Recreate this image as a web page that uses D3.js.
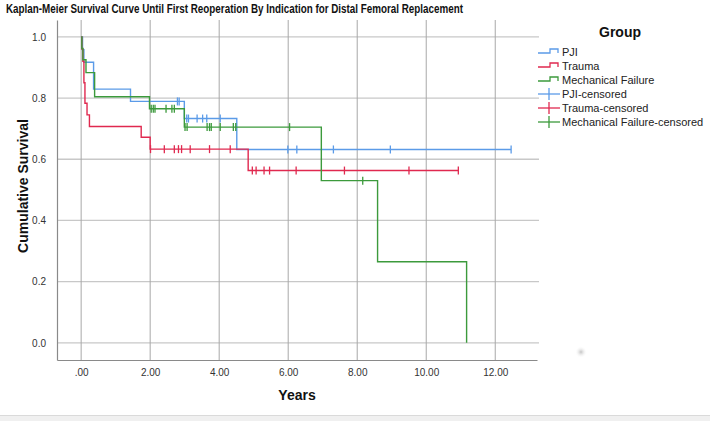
<!DOCTYPE html>
<html><head><meta charset="utf-8">
<script src="https://cdn.jsdelivr.net/npm/d3@7"></script>
<style>body{margin:0;background:#fff;overflow:hidden}svg{display:block}</style>
</head><body>
<script>
// ---- data ----
const groups = ["PJI", "Trauma", "Mechanical Failure"];
const colors = ["#5b9be8", "#e0294f", "#3c9a3c"];

const pjiTimes = [0, 0.04, 0.08, 0.36, 1.43, 2.99, 4.51];
const pjiSurv  = [1.0, 0.958, 0.917, 0.829, 0.789, 0.733, 0.632];
const pjiEnd = 12.46;
const pjiCensored = [2.79, 2.84, 3.06, 3.11, 3.36, 3.52, 3.64, 4.03, 5.99, 6.25, 7.31, 8.96, 12.46];

const traumaTimes = [0, 0.02, 0.05, 0.08, 0.11, 0.17, 0.24, 1.74, 2.0, 4.84];
const traumaSurv  = [1.0, 0.96, 0.92, 0.85, 0.783, 0.745, 0.707, 0.672, 0.633, 0.563];
const traumaEnd = 10.93;
const traumaCensored = [2.01, 2.41, 2.70, 2.82, 2.91, 3.16, 3.72, 4.32, 4.96, 5.07, 5.30, 5.46, 6.23, 7.63, 9.50, 10.93];

const mechTimes = [0, 0.02, 0.05, 0.14, 0.39, 1.98, 2.99, 6.96, 8.59, 11.17];
const mechSurv  = [1.0, 0.962, 0.925, 0.883, 0.804, 0.765, 0.705, 0.53, 0.265, 0.0];
const mechEnd = 11.17;
const mechCensored = [2.03, 2.09, 2.14, 2.46, 2.63, 2.70, 3.01, 3.07, 3.65, 3.72, 3.77, 4.03, 4.41, 4.48, 6.04, 8.16];

const xTicks = [0, 2, 4, 6, 8, 10, 12];
const yTicks = [0, 0.2, 0.4, 0.6, 0.8, 1.0];
const legendLabels = ["PJI", "Trauma", "Mechanical Failure", "PJI-censored", "Trauma-censored", "Mechanical Failure-censored"];

// ---- chart ----
const W = 710, H = 421;
const svg = d3.select("body").append("svg").attr("width", W).attr("height", H)
  .style("font-family", "Arial, 'Liberation Sans', sans-serif");

const x = d3.scaleLinear().domain([-0.7, 13.21]).range([57, 537]);
const y = d3.scaleLinear().domain([-0.056, 1.055]).range([360, 20]);

// title
svg.append("text").attr("x", 6).attr("y", 12.5)
  .attr("font-size", 12.5).attr("font-weight", "bold").attr("fill", "#111")
  .attr("textLength", 457).attr("lengthAdjust", "spacingAndGlyphs")
  .text("Kaplan-Meier Survival Curve Until First Reoperation By Indication for Distal Femoral Replacement");

// gridlines
const grid = svg.append("g");
grid.selectAll(".hg").data(yTicks).join("line")
  .attr("x1", 57).attr("x2", 539).attr("y1", d => y(d)).attr("y2", d => y(d))
  .attr("stroke", "#c8c8c8").attr("stroke-width", 1.3);
grid.selectAll(".vg").data(xTicks).join("line")
  .attr("x1", d => x(d)).attr("x2", d => x(d)).attr("y1", 20).attr("y2", 360)
  .attr("stroke", "#a8a8a8").attr("stroke-width", 1);

// axes
const xAxis = d3.axisBottom(x).tickValues(xTicks).tickSize(0).tickPadding(9)
  .tickFormat(d => d === 0 ? ".00" : d.toFixed(2));
const gx = svg.append("g").attr("transform", "translate(0,360)").call(xAxis);
gx.select(".domain").attr("stroke", "#8a8a8a").attr("stroke-width", 1.2);
gx.selectAll("text").attr("font-size", 10).attr("fill", "#333").attr("font-family", "Arial, 'Liberation Sans', sans-serif");

const yAxis = d3.axisLeft(y).tickValues(yTicks).tickSize(0).tickPadding(11)
  .tickFormat(d => d.toFixed(1));
const gy = svg.append("g").attr("transform", "translate(57,0)").call(yAxis);
gy.select(".domain").attr("stroke", "#8a8a8a").attr("stroke-width", 1.2);
gy.selectAll("text").attr("font-size", 10).attr("fill", "#333").attr("font-family", "Arial, 'Liberation Sans', sans-serif");

// axis titles
svg.append("text").attr("x", 297).attr("y", 400).attr("text-anchor", "middle")
  .attr("font-size", 14).attr("font-weight", "bold").attr("fill", "#111").text("Years");
svg.append("text").attr("transform", "translate(28,186) rotate(-90)").attr("text-anchor", "middle")
  .attr("font-size", 14).attr("font-weight", "bold").attr("fill", "#111").text("Cumulative Survival");

// curves
const series = [
  {times: pjiTimes, surv: pjiSurv, end: pjiEnd, cens: pjiCensored},
  {times: traumaTimes, surv: traumaSurv, end: traumaEnd, cens: traumaCensored},
  {times: mechTimes, surv: mechSurv, end: mechEnd, cens: mechCensored}
];
function survAt(s, t) {
  let v = s.surv[0];
  for (let i = 0; i < s.times.length; i++) if (s.times[i] <= t) v = s.surv[i];
  return v;
}
const line = d3.line().x(d => x(d[0])).y(d => y(d[1])).curve(d3.curveStepAfter);
series.forEach((s, i) => {
  const pts = s.times.map((t, k) => [t, s.surv[k]]);
  const last = pts[pts.length - 1];
  if (s.end > last[0]) pts.push([s.end, last[1]]);
  svg.append("path").attr("d", line(pts)).attr("fill", "none")
    .attr("stroke", colors[i]).attr("stroke-width", 1.4);
});
series.forEach((s, i) => {
  svg.append("g").selectAll("line").data(s.cens).join("line")
    .attr("x1", d => x(d)).attr("x2", d => x(d))
    .attr("y1", d => y(survAt(s, d)) - 4).attr("y2", d => y(survAt(s, d)) + 4)
    .attr("stroke", colors[i]).attr("stroke-width", 1.3);
});

// legend
svg.append("text").attr("x", 620).attr("y", 37).attr("text-anchor", "middle")
  .attr("font-size", 14).attr("font-weight", "bold").attr("fill", "#111").text("Group");
const lg = svg.append("g");
legendLabels.forEach((lab, i) => {
  const yy = 52 + i * 14;
  const c = colors[i % 3];
  if (i < 3) {
    lg.append("path").attr("d", `M538,${yy + 1}H550V${yy - 3}H558V${yy + 1}`)
      .attr("fill", "none").attr("stroke", c).attr("stroke-width", 1.3);
  } else {
    lg.append("line").attr("x1", 538).attr("x2", 560).attr("y1", yy).attr("y2", yy)
      .attr("stroke", c).attr("stroke-width", 1.3);
    lg.append("line").attr("x1", 549).attr("x2", 549).attr("y1", yy - 6).attr("y2", yy + 6)
      .attr("stroke", c).attr("stroke-width", 1.3);
  }
  lg.append("text").attr("x", 562).attr("y", yy + 4).attr("font-size", 11)
    .attr("fill", "#222").text(lab);
});

// faint artifact and bottom band
const defs = svg.append("defs");
const rg = defs.append("radialGradient").attr("id", "blob");
rg.append("stop").attr("offset", "0%").attr("stop-color", "#c4c4c4");
rg.append("stop").attr("offset", "100%").attr("stop-color", "#ffffff").attr("stop-opacity", 0);
svg.append("circle").attr("cx", 581).attr("cy", 352).attr("r", 6).attr("fill", "url(#blob)");
svg.append("rect").attr("x", 0).attr("y", 415).attr("width", W).attr("height", 6).attr("fill", "#f0f0f0");
svg.append("line").attr("x1", 0).attr("x2", W).attr("y1", 415.5).attr("y2", 415.5).attr("stroke", "#dadada");
</script>
</body></html>
